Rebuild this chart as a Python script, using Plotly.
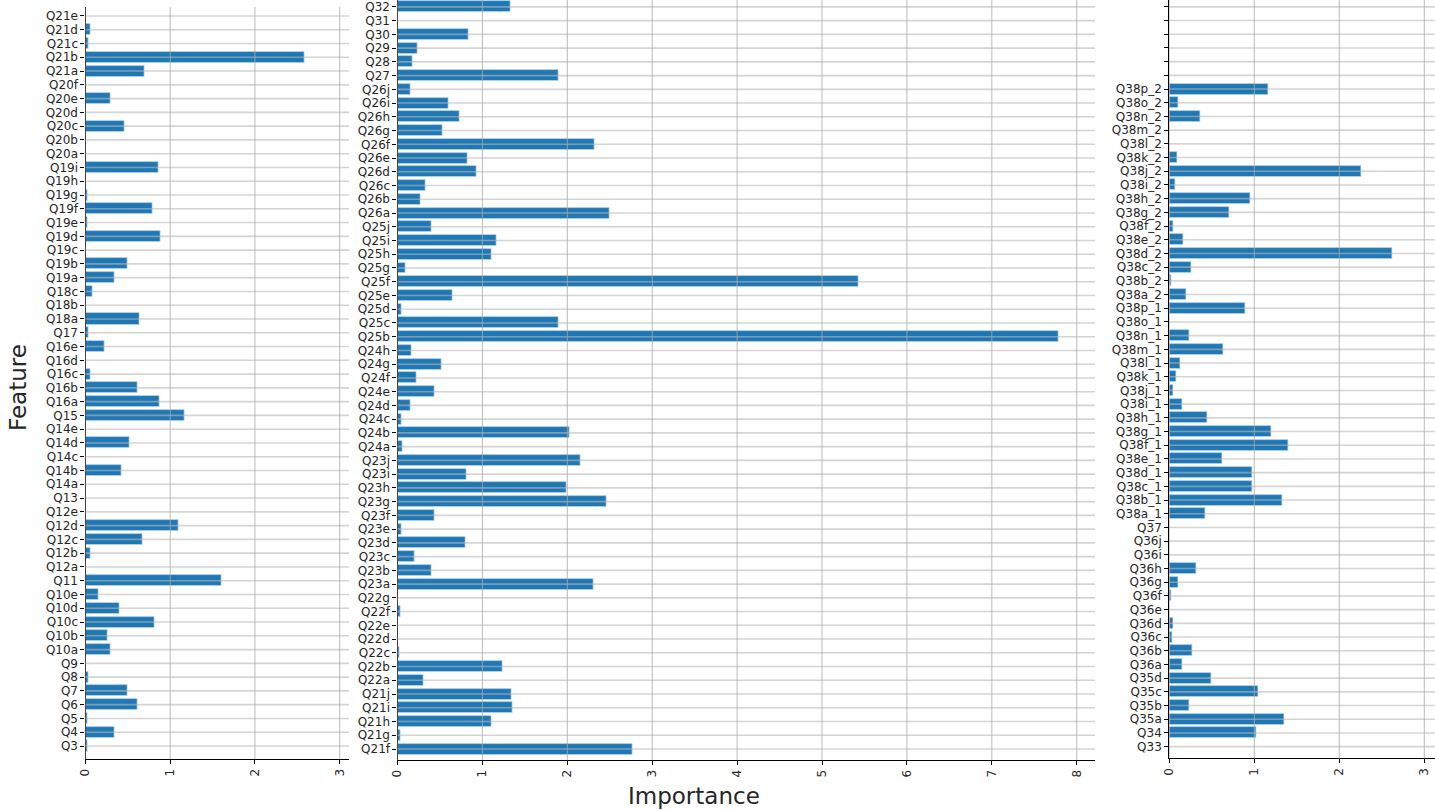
import plotly.graph_objects as go

# ---------------- data ----------------
left_features = ["Q3", "Q4", "Q5", "Q6", "Q7", "Q8", "Q9", "Q10a", "Q10b", "Q10c", "Q10d", "Q10e",
                 "Q11", "Q12a", "Q12b", "Q12c", "Q12d", "Q12e", "Q13", "Q14a", "Q14b", "Q14c", "Q14d",
                 "Q14e", "Q15", "Q16a", "Q16b", "Q16c", "Q16d", "Q16e", "Q17", "Q18a", "Q18b", "Q18c",
                 "Q19a", "Q19b", "Q19c", "Q19d", "Q19e", "Q19f", "Q19g", "Q19h", "Q19i", "Q20a", "Q20b",
                 "Q20c", "Q20d", "Q20e", "Q20f", "Q21a", "Q21b", "Q21c", "Q21d", "Q21e"]
left_values = [0.02, 0.34, 0.02, 0.61, 0.49, 0.035, 0, 0.30, 0.26, 0.81, 0.40, 0.15,
               1.61, 0, 0.06, 0.67, 1.10, 0, 0, 0, 0.42, 0, 0.52,
               0, 1.17, 0.87, 0.61, 0.06, 0, 0.22, 0.03, 0.64, 0, 0.08,
               0.34, 0.49, 0, 0.89, 0.02, 0.79, 0.02, 0, 0.86, 0, 0,
               0.46, 0, 0.30, 0, 0.70, 2.59, 0.03, 0.063, 0]

mid_features = ["Q21f", "Q21g", "Q21h", "Q21i", "Q21j", "Q22a", "Q22b", "Q22c", "Q22d", "Q22e", "Q22f",
                "Q22g", "Q23a", "Q23b", "Q23c", "Q23d", "Q23e", "Q23f", "Q23g", "Q23h", "Q23i", "Q23j",
                "Q24a", "Q24b", "Q24c", "Q24d", "Q24e", "Q24f", "Q24g", "Q24h", "Q25b", "Q25c", "Q25d",
                "Q25e", "Q25f", "Q25g", "Q25h", "Q25i", "Q25j", "Q26a", "Q26b", "Q26c", "Q26d", "Q26e",
                "Q26f", "Q26g", "Q26h", "Q26i", "Q26j", "Q27", "Q28", "Q29", "Q30", "Q31", "Q32"]
mid_values = [2.77, 0.03, 1.11, 1.36, 1.34, 0.31, 1.24, 0.02, 0, 0.005, 0.03,
              0, 2.31, 0.40, 0.20, 0.80, 0.05, 0.43, 2.46, 1.99, 0.81, 2.15,
              0.06, 2.03, 0.05, 0.15, 0.43, 0.22, 0.52, 0.165, 7.79, 1.90, 0.05,
              0.65, 5.43, 0.09, 1.11, 1.17, 0.40, 2.50, 0.27, 0.33, 0.93, 0.83,
              2.32, 0.53, 0.73, 0.60, 0.15, 1.90, 0.18, 0.24, 0.84, 0, 1.33]

right_features = ["Q33", "Q34", "Q35a", "Q35b", "Q35c", "Q35d", "Q36a", "Q36b", "Q36c", "Q36d", "Q36e",
                  "Q36f", "Q36g", "Q36h", "Q36i", "Q36j", "Q37",
                  "Q38a_1", "Q38b_1", "Q38c_1", "Q38d_1", "Q38e_1", "Q38f_1", "Q38g_1", "Q38h_1",
                  "Q38i_1", "Q38j_1", "Q38k_1", "Q38l_1", "Q38m_1", "Q38n_1", "Q38o_1", "Q38p_1",
                  "Q38a_2", "Q38b_2", "Q38c_2", "Q38d_2", "Q38e_2", "Q38f_2", "Q38g_2", "Q38h_2",
                  "Q38i_2", "Q38j_2", "Q38k_2", "Q38l_2", "Q38m_2", "Q38n_2", "Q38o_2", "Q38p_2",
                  "", "", "", "", "", ""]
right_values = [0, 1.02, 1.35, 0.24, 1.05, 0.49, 0.15, 0.27, 0.035, 0.05, 0,
                0.02, 0.11, 0.32, 0, 0, 0,
                0.42, 1.33, 0.98, 0.98, 0.62, 1.40, 1.20, 0.45,
                0.15, 0.05, 0.08, 0.125, 0.64, 0.24, 0, 0.89,
                0.20, 0.024, 0.255, 2.62, 0.17, 0.05, 0.70, 0.95,
                0.067, 2.26, 0.094, 0, 0, 0.36, 0.11, 1.16]

x_ticks_left = [0, 1, 2, 3]
x_ticks_mid = [0, 1, 2, 3, 4, 5, 6, 7, 8]
x_ticks_right = [0, 1, 2, 3]

# ---------------- layout geometry (pixels) ----------------
W, H = 1435, 810
panels = [
    dict(f=left_features, v=left_values, xt=x_ticks_left, px=(85.5, 349), py=(7, 759),
         xr=[0, 3.11], yr=[-0.944, 53.65]),
    dict(f=mid_features, v=mid_values, xt=x_ticks_mid, px=(397.5, 1095), py=(0, 760),
         xr=[0, 8.215], yr=[-0.8, 54.5]),
    dict(f=right_features, v=right_values, xt=x_ticks_right, px=(1169.3, 1435), py=(0, 758.3),
         xr=[0, 3.126], yr=[-0.85, 54.5]),
]

BAR = "#1f77b4"
TXT = "#262626"
fig = go.Figure()
shapes = []
layout = {}
for k, p in enumerate(panels):
    sfx = "" if k == 0 else str(k + 1)
    xa, ya = "x" + sfx, "y" + sfx
    ypos = list(range(len(p["f"])))
    fig.add_trace(go.Bar(
        x=p["v"], y=ypos[:len(p["v"])], orientation="h", width=0.8,
        marker=dict(color=BAR, line=dict(color="rgba(190,215,240,0.9)", width=0.8)),
        xaxis=xa, yaxis=ya, showlegend=False,
        hovertext=p["f"][:len(p["v"])], hoverinfo="text+x",
    ))
    layout["xaxis" + sfx] = dict(
        domain=[p["px"][0] / W, p["px"][1] / W], anchor=ya, range=p["xr"],
        tickmode="array", tickvals=p["xt"], ticktext=[str(t) for t in p["xt"]],
        tickangle=-90, ticks="outside", ticklen=4, tickwidth=1, tickcolor="#000",
        showgrid=False, zeroline=False, showline=True, linecolor="#000", linewidth=1.2,
        layer="above traces", automargin=False,
        tickfont=dict(family="DejaVu Sans", size=12, color=TXT),
    )
    layout["yaxis" + sfx] = dict(
        domain=[1 - p["py"][1] / H, 1 - p["py"][0] / H], anchor=xa, range=p["yr"],
        tickmode="array", tickvals=ypos, ticktext=p["f"],
        ticks="outside", ticklen=4, tickwidth=1, tickcolor="#000",
        showgrid=False, zeroline=False, showline=True, linecolor="#000", linewidth=1.2,
        layer="above traces", automargin=False,
        tickfont=dict(family="DejaVu Sans", size=12, color=TXT),
    )
    for yi in ypos:
        shapes.append(dict(type="line", xref=xa + " domain", yref=ya, x0=0, x1=1, y0=yi, y1=yi,
                           line=dict(color="rgba(185,185,185,0.6)", width=1.6), layer="above"))
    for xt in p["xt"]:
        shapes.append(dict(type="line", xref=xa, yref=ya + " domain", x0=xt, x1=xt, y0=0, y1=1,
                           line=dict(color="rgba(170,170,170,0.8)", width=1), layer="above"))

fig.update_layout(
    **layout,
    shapes=shapes,
    width=W, height=H,
    margin=dict(l=0, r=0, t=0, b=0, autoexpand=False),
    paper_bgcolor="white", plot_bgcolor="white",
    bargap=0,
    annotations=[
        dict(text="Feature", xref="paper", yref="paper", x=18 / W, y=1 - 388 / H,
             xanchor="center", yanchor="middle",
             showarrow=False, textangle=-90, font=dict(family="DejaVu Sans", size=23, color=TXT)),
        dict(text="Importance", xref="paper", yref="paper", x=694 / W, y=1 - 796 / H,
             xanchor="center", yanchor="middle",
             showarrow=False, font=dict(family="DejaVu Sans", size=23, color=TXT)),
    ],
)

fig.write_html("out.html", config={"displayModeBar": False},
               post_script="document.body.style.margin='0px';document.body.style.overflow='hidden';")
